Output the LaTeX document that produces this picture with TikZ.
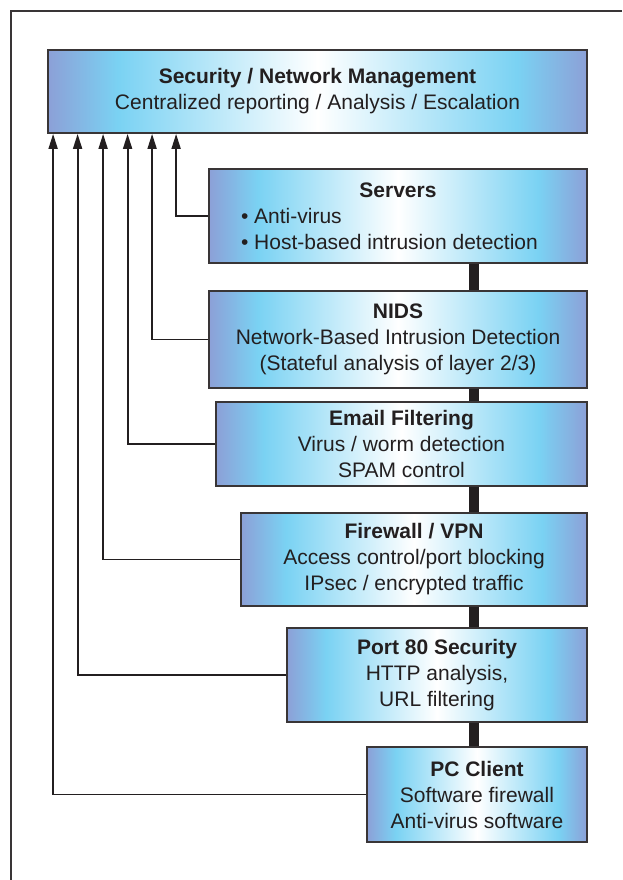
\documentclass[tikz,border=0pt]{standalone}
\usepackage{fontspec}
\setmainfont{Liberation Sans}
\usetikzlibrary{arrows.meta}
\definecolor{edgeblue}{RGB}{140,160,215}
\definecolor{skyblue}{RGB}{122,210,243}
\definecolor{inkgray}{RGB}{35,31,32}
\pgfdeclarehorizontalshading{boxfade}{100bp}{color(0bp)=(edgeblue); color(25bp)=(edgeblue); color(31.5bp)=(skyblue); color(50bp)=(white); color(68.5bp)=(skyblue); color(75bp)=(edgeblue); color(100bp)=(edgeblue)}
\newcommand\srvitem[1]{\hbox to 314pt{#1\hss}}
\begin{document}
\begin{tikzpicture}[x=1pt, y=-1pt,
  layer/.style={draw=inkgray!90, line width=1.8pt, shading=boxfade, inner sep=0pt,
    align=center, font=\fontsize{21}{26}\selectfont, text=inkgray},
  feed/.style={draw=inkgray, line width=1.8pt, -{Triangle[length=15pt,width=9pt]}},
  spine/.style={draw=inkgray, line width=10pt}]
\useasboundingbox (0,0) rectangle (622,880);
\draw[inkgray!90, line width=1.6pt] (622,11) -- (11,11) -- (11,880);
\coordinate (trunk) at (474,0);
\node[layer, minimum width=539pt, minimum height=83pt] (mgmt) at (317.5,91.5){\textbf{Security / Network Management}\\Centralized reporting / Analysis / Escalation};
\node[layer, minimum width=378pt, minimum height=94pt] (srv) at (398,216){\textbf{Servers}\\\srvitem{• Anti-virus}\\\srvitem{• Host-based intrusion detection}};
\node[layer, minimum width=378pt, minimum height=97pt] (nids) at (398,339.5){\textbf{NIDS}\\Network-Based Intrusion Detection\\(Stateful analysis of layer 2/3)};
\node[layer, minimum width=371pt, minimum height=84pt] (mail) at (401.5,444){\textbf{Email Filtering}\\Virus / worm detection\\SPAM control};
\node[layer, minimum width=346pt, minimum height=93pt] (fw) at (414,559.5){\textbf{Firewall / VPN}\\Access control/port blocking\\IPsec / encrypted traffic};
\node[layer, minimum width=300pt, minimum height=94pt] (port) at (437,675){\textbf{Port 80 Security}\\HTTP analysis,\\URL filtering};
\node[layer, minimum width=220pt, minimum height=95pt] (pc) at (477,794.5){\textbf{PC Client}\\Software firewall\\Anti-virus software};
\draw[spine] (srv.south -| trunk) -- (nids.north -| trunk);
\draw[spine] (nids.south -| trunk) -- (mail.north -| trunk);
\draw[spine] (mail.south -| trunk) -- (fw.north -| trunk);
\draw[spine] (fw.south -| trunk) -- (port.north -| trunk);
\draw[spine] (port.south -| trunk) -- (pc.north -| trunk);
\draw[feed] (srv.west) -| ([xshift=129pt]mgmt.south west);
\draw[feed] (nids.west) -| ([xshift=105pt]mgmt.south west);
\draw[feed] (mail.west) -| ([xshift=80.5pt]mgmt.south west);
\draw[feed] (fw.west) -| ([xshift=56pt]mgmt.south west);
\draw[feed] (port.west) -| ([xshift=30.5pt]mgmt.south west);
\draw[feed] (pc.west) -| ([xshift=6pt]mgmt.south west);
\end{tikzpicture}
\end{document}
